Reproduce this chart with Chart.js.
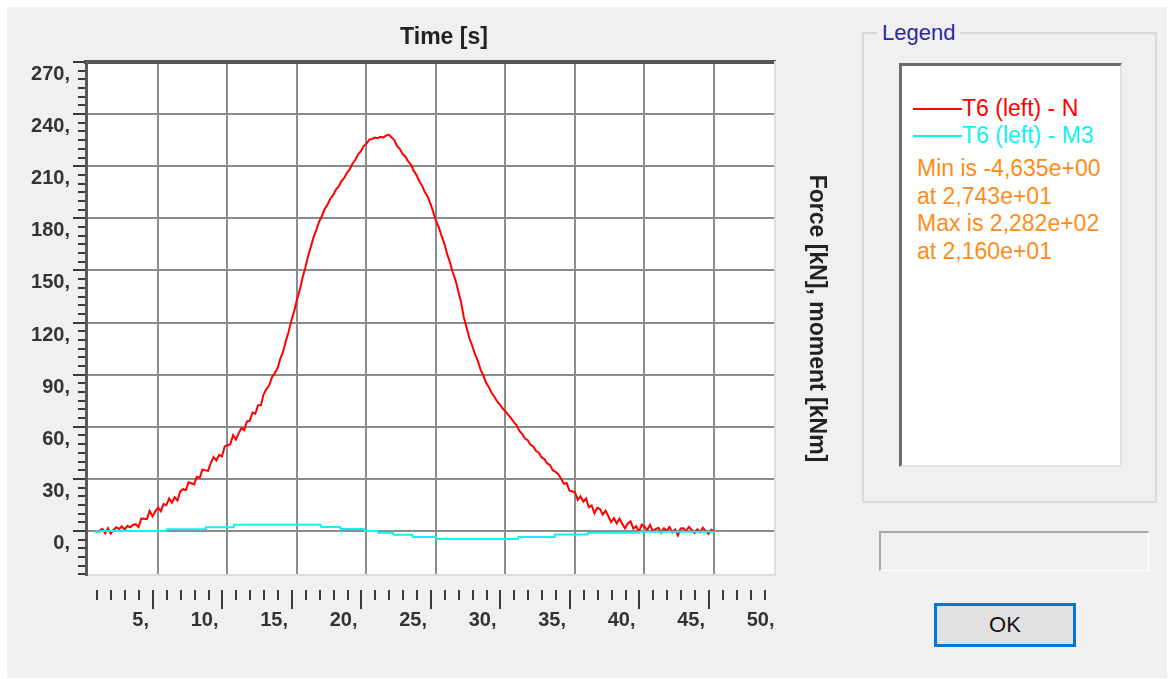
<!DOCTYPE html>
<html>
<head>
<meta charset="utf-8">
<title>Plot Function</title>
<script src="https://cdn.jsdelivr.net/npm/chart.js@4.4.0/dist/chart.umd.min.js"></script>
<style>
  body { margin: 0; background: #fff; font-family: "Liberation Sans", Arial, sans-serif; }
  #dialog { position: absolute; left: 7px; top: 7px; width: 1160px; height: 671px; background: #f0f0f0; }
  #plot { position: absolute; left: 0; top: 0; }
  #group { position: absolute; left: 862px; top: 32px; width: 295px; height: 471px; box-sizing: border-box;
           border: 2px solid #dadada; }
  #groupTitle { position: absolute; left: 877px; top: 19px; padding: 0 5px; background: #f0f0f0;
                color: #2a2a9c; font-size: 22px; line-height: 28px; }
  #list { position: absolute; left: 899px; top: 63px; width: 223px; height: 404px; box-sizing: border-box;
          background: #fff; border-style: solid; border-width: 3px 2px 2px 3px;
          border-color: #6e6e6e #e2e2e2 #e2e2e2 #6e6e6e; font-size: 23px; }
  .row { position: absolute; left: 11px; height: 27px; line-height: 27px; white-space: nowrap; }
  .swatch { display: inline-block; width: 49px; height: 2px; vertical-align: middle; margin-top: -2px; }
  #stats { position: absolute; left: 15px; top: 89px; color: #ff8c1a; line-height: 27.7px; white-space: nowrap; }
  #status { position: absolute; left: 879px; top: 531px; width: 270px; height: 40px; box-sizing: border-box;
            border-style: solid; border-width: 2px 1px 1px 2px; border-color: #a8a8a8 #fff #fff #a8a8a8; }
  #ok { position: absolute; left: 934px; top: 603px; width: 142px; height: 44px; box-sizing: border-box;
        border: 3px solid #0078d7; background: #e1e1e1; font-size: 22px; line-height: 38px;
        text-align: center; color: #111; }
</style>
</head>
<body>
<div id="dialog"></div>
<canvas id="plot" width="888" height="679"></canvas>
<div id="group"></div>
<div id="groupTitle">Legend</div>
<div id="list"></div>
<div id="status"></div>
<div id="ok">OK</div>
<script>
// sampled record: time axis starts at tStart and advances by tStep per value
const tStart = 0.8;
const tStep = 0.2;

// T6 (left) - N  [kN]
const axialForce = [
  0.4, 1.3, -1.3, 1.6, -1.5, 0.6, 2.2, 1.1, 2.6, 0.9,
  3.0, 2.1, 3.5, 3.9, 2.2, 7.2, 7.1, 6.8, 11.6, 8.4,
  11.2, 13.4, 11.4, 15.5, 14.9, 18.8, 16.3, 19.4, 17.6, 22.8,
  24.1, 23.5, 28.0, 27.5, 26.8, 31.2, 30.6, 35.4, 34.9, 34.6,
  39.2, 42.5, 40.6, 43.8, 42.9, 48.7, 49.4, 49.8, 55.2, 52.6,
  56.2, 59.2, 58.1, 63.1, 63.4, 68.2, 67.5, 72.4, 72.4, 78.7,
  81.7, 83.9, 88.5, 90.9, 93.6, 99.2, 103.2, 109.3, 114.7, 121.3,
  126.6, 133.3, 138.7, 145.8, 151.5, 158.3, 163.7, 169.3, 173.5, 178.3,
  181.5, 185.5, 188.0, 191.3, 193.3, 196.5, 198.4, 201.5, 203.3, 206.3,
  208.3, 211.6, 213.7, 216.8, 218.7, 221.6, 223.0, 225.3, 225.7, 226.5,
  226.1, 226.9, 226.5, 227.6, 228.2, 226.7, 225.1, 221.7, 219.9, 217.1,
  215.5, 212.7, 210.9, 207.3, 204.9, 201.3, 198.8, 195.1, 192.5, 188.5,
  183.7, 178.5, 174.9, 169.9, 165.5, 159.5, 154.9, 149.1, 144.5, 138.1,
  131.9, 123.2, 117.1, 111.1, 106.8, 101.9, 98.1, 93.1, 89.5, 85.5,
  82.8, 79.6, 77.3, 74.6, 72.8, 70.5, 68.9, 66.8, 65.0, 62.7,
  60.9, 57.6, 55.9, 53.2, 52.3, 49.6, 48.6, 46.0, 45.1, 42.3,
  41.4, 38.9, 38.0, 35.0, 34.1, 32.7, 30.1, 27.2, 27.6, 23.2,
  22.9, 22.2, 17.9, 20.0, 16.9, 18.7, 13.7, 14.7, 10.2, 13.4,
  12.6, 9.5, 11.7, 8.5, 5.2, 7.4, 4.4, 7.2, 4.1, 1.6,
  4.3, 5.6, 1.4, 2.8, -0.4, 3.7, 2.4, 0.6, 3.6, -0.2,
  1.1, 1.8, -0.9, 1.6, 0.1, 2.4, -0.7, 0.9, -2.6, 1.5,
  1.6, 0.0, 2.4, 0.6, -1.2, 1.0, -0.7, 1.9, -0.1, -1.7,
  0.7, 0.0
];

// T6 (left) - M3  [kNm], stored where the value changes
const momentTime = [0.45, 0.8, 0.85, 5.6, 5.65, 8.4, 8.45, 10.4, 10.45, 16.7, 16.75, 18.1, 18.15,
  19.8, 19.85, 20.8, 20.85, 21.9, 21.95, 23.3, 23.35, 25.0, 25.05, 27.43, 30.9, 30.95, 33.5, 33.55,
  35.9, 35.95, 39.5, 39.55, 45.0];
const momentValue = [-0.6, -0.6, 0, 0, 1.0, 1.0, 2.1, 2.1, 3.6, 3.6, 2.3, 2.3, 1.1,
  1.1, 0, 0, -1.0, -1.0, -2.1, -2.1, -3.4, -3.4, -4.6, -4.635, -4.6, -3.4, -3.4, -2.0,
  -2.0, -1.0, -1.0, -0.4, -0.4];

const seriesNames = ['T6 (left) - N', 'T6 (left) - M3'];
const seriesColors = ['#ff0000', '#12f0f0'];

const xTicks = [5, 10, 15, 20, 25, 30, 35, 40, 45, 50];
const yTicks = [0, 30, 60, 90, 120, 150, 180, 210, 240, 270];
const xRange = [-0.18, 49.39];
const yRange = [-25.33, 270];

const FONT = '"Liberation Sans", Arial, sans-serif';
Chart.defaults.font.family = FONT;

const forcePoints = axialForce.map((v, i) => ({ x: +(tStart + i * tStep).toFixed(2), y: v }));
const momentPoints = momentTime.map((t, i) => ({ x: t, y: momentValue[i] }));

// white plotting field
const plotBackground = {
  id: 'plotBackground',
  beforeDraw(chart) {
    const { ctx, chartArea: a } = chart;
    ctx.save();
    ctx.fillStyle = '#fff';
    ctx.fillRect(a.left, a.top, a.right - a.left, a.bottom - a.top);
    ctx.restore();
  }
};

// small tick marks: a strip under the plot for time, and along the left axis for force
const tickMarks = {
  id: 'tickMarks',
  afterDraw(chart) {
    const { ctx, chartArea: a, scales: { x, y } } = chart;
    ctx.save();
    ctx.strokeStyle = '#3a3a3a';
    ctx.lineWidth = 2;
    ctx.beginPath();
    for (let v = 1; v <= 49; v++) {
      const px = Math.round(x.getPixelForValue(v)) - 5;
      const top = a.bottom + 15;
      ctx.moveTo(px, top);
      ctx.lineTo(px, top + (v % 5 === 0 ? 19 : 10));
    }
    for (let v = -25; v <= 270; v += 5) {
      const py = Math.round(y.getPixelForValue(v));
      const major = v >= 0 && v % 30 === 0;
      ctx.moveTo(a.left - (major ? 13 : 8), py);
      ctx.lineTo(a.left - 1, py);
    }
    ctx.stroke();
    ctx.restore();
  }
};

const tickFont = { size: 20, weight: 'bold' };

new Chart(document.getElementById('plot'), {
  type: 'line',
  data: {
    datasets: [
      { label: seriesNames[1], data: momentPoints, borderColor: seriesColors[1], borderWidth: 2,
        pointRadius: 0, tension: 0, order: 0 },
      { label: seriesNames[0], data: forcePoints, borderColor: seriesColors[0], borderWidth: 2,
        pointRadius: 0, tension: 0, order: 1 }
    ]
  },
  options: {
    responsive: false,
    animation: false,
    events: [],
    layout: { padding: 0 },
    plugins: {
      legend: { display: false },
      tooltip: { enabled: false },
      title: {
        display: true,
        text: 'Time [s]',
        color: '#222',
        font: { size: 23, weight: 'bold' },
        padding: { top: 24.2, bottom: 10.2 }
      }
    },
    scales: {
      x: {
        type: 'linear',
        position: 'bottom',
        min: xRange[0],
        max: xRange[1],
        afterBuildTicks: s => { s.ticks = xTicks.map(v => ({ value: v })); },
        afterFit: s => { s.height = 104; },
        grid: {
          color: c => (c.tick && c.tick.value > 45 ? 'rgba(0,0,0,0)' : '#8c8c8c'),
          lineWidth: 2,
          drawTicks: false
        },
        border: { color: '#dddddd', width: 2 },
        ticks: {
          autoSkip: false, maxRotation: 0, minRotation: 0,
          align: 'end', labelOffset: -9, padding: 33,
          color: '#333', font: tickFont,
          callback: v => v + ','
        }
      },
      xTop: {
        type: 'linear',
        position: 'top',
        min: xRange[0],
        max: xRange[1],
        afterFit: s => { s.height = 0; },
        grid: { drawOnChartArea: false, drawTicks: false },
        border: { color: '#555', width: 4 },
        ticks: { display: false }
      },
      y: {
        type: 'linear',
        position: 'left',
        min: yRange[0],
        max: yRange[1],
        afterBuildTicks: s => { s.ticks = yTicks.map(v => ({ value: v })); },
        afterFit: s => { s.width = 86; },
        grid: {
          color: c => (c.tick && c.tick.value >= 270 ? 'rgba(0,0,0,0)' : '#8c8c8c'),
          lineWidth: 2,
          drawTicks: false
        },
        border: { color: '#5a5a5a', width: 3 },
        ticks: {
          padding: 16, labelOffset: 12.5,
          color: '#333', font: tickFont,
          callback: v => v + ','
        }
      },
      yRight: {
        type: 'linear',
        position: 'right',
        min: yRange[0],
        max: yRange[1],
        afterFit: s => { s.width = 113; },
        grid: { drawOnChartArea: false, drawTicks: false },
        border: { color: '#dddddd', width: 2 },
        ticks: { display: false },
        title: {
          display: true,
          text: 'Force [kN], moment [kNm]',
          color: '#222',
          font: { size: 23, weight: 'bold' },
          padding: { top: 58, bottom: 0 }
        }
      }
    }
  },
  plugins: [plotBackground, tickMarks]
});

// legend list: series swatches followed by the extreme values over both series
function sci(v) {
  const [m, e] = v.toExponential(3).split('e');
  const n = parseInt(e, 10);
  return m.replace('.', ',') + 'e' + (n < 0 ? '-' : '+') + String(Math.abs(n)).padStart(2, '0');
}
const allPoints = forcePoints.concat(momentPoints);
let lo = allPoints[0], hi = allPoints[0];
allPoints.forEach(p => { if (p.y < lo.y) lo = p; if (p.y > hi.y) hi = p; });

const list = document.getElementById('list');
seriesNames.forEach((name, i) => {
  const row = document.createElement('div');
  row.className = 'row';
  row.style.top = (29 + i * 27) + 'px';
  row.style.color = seriesColors[i];
  row.innerHTML = '<span class="swatch" style="background:' + seriesColors[i] + '"></span>' + name;
  list.appendChild(row);
});
const stats = document.createElement('div');
stats.id = 'stats';
stats.innerHTML = 'Min is ' + sci(lo.y) + '<br>at ' + sci(lo.x) + '<br>Max is ' + sci(hi.y) + '<br>at ' + sci(hi.x);
list.appendChild(stats);
</script>
</body>
</html>
